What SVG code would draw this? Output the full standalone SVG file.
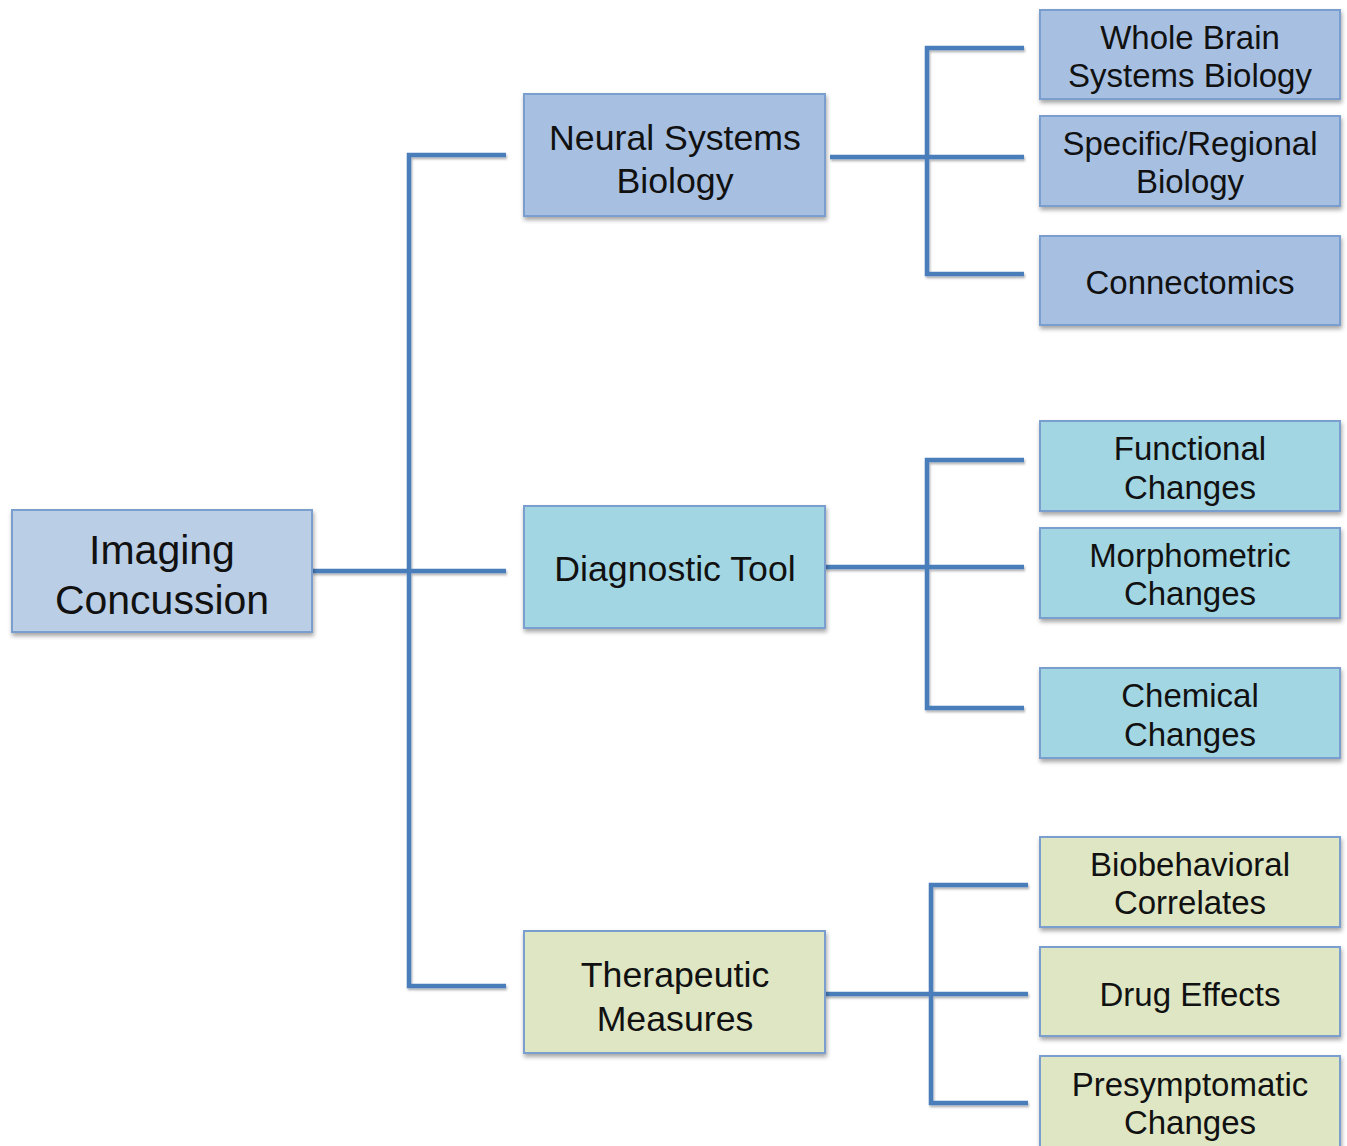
<svg xmlns="http://www.w3.org/2000/svg" width="1347" height="1146" viewBox="0 0 1347 1146">
<defs>
<filter id="sh" x="-5%" y="-10%" width="112%" height="130%">
<feDropShadow dx="1" dy="3" stdDeviation="2" flood-color="#000" flood-opacity="0.35"/>
</filter>
<filter id="lsh" x="-5%" y="-5%" width="110%" height="110%">
<feDropShadow dx="1" dy="2" stdDeviation="1.2" flood-color="#000" flood-opacity="0.3"/>
</filter>
<style>
.box{stroke:#7a9fcf;stroke-width:2;filter:url(#sh)}
.root{fill:#bacee6}
.nsb{fill:#a7c0e1}
.dx{fill:#a3d6e3}
.tm{fill:#dee6c4}
text{font-family:"Liberation Sans",Arial,Helvetica,sans-serif;fill:#111;text-anchor:middle}
.t0{font-size:41px}
.t1{font-size:35.7px}
.t2{font-size:33px}
.conn path{fill:none;stroke:#4a7ebb;stroke-width:4.5;stroke-linejoin:miter;stroke-linecap:butt}
</style>
</defs>
<rect width="1347" height="1146" fill="#ffffff"/>
<g class="conn" id="connectors" filter="url(#lsh)">
<path d="M312 571H506"/>
<path d="M506 155H409V986H506"/>
<path d="M830 157H1024"/>
<path d="M1024 48H927V274H1024"/>
<path d="M825 567H921"/>
<path d="M921 567H1024"/>
<path d="M1024 460H927V708H1024"/>
<path d="M825 994H1028"/>
<path d="M1028 885H931V1103H1028"/>
</g>
<g id="imaging-concussion"><rect class="box root" x="12" y="510" width="300" height="122"/><text class="t0" x="162" y="564">Imaging</text><text class="t0" x="162" y="614">Concussion</text></g>
<g id="neural-systems-biology"><rect class="box nsb" x="524" y="94" width="301" height="122"/><text class="t1" x="675" y="150">Neural Systems</text><text class="t1" x="675" y="193">Biology</text></g>
<g id="diagnostic-tool"><rect class="box dx" x="524" y="506" width="301" height="122"/><text class="t1" x="675" y="581">Diagnostic Tool</text></g>
<g id="therapeutic-measures"><rect class="box tm" x="524" y="931" width="301" height="122"/><text class="t1" x="675" y="987">Therapeutic</text><text class="t1" x="675" y="1031">Measures</text></g>
<g id="whole-brain"><rect class="box nsb" x="1040" y="10" width="300" height="89"/><text class="t2" x="1190" y="49">Whole Brain</text><text class="t2" x="1190" y="87">Systems Biology</text></g>
<g id="specific-regional"><rect class="box nsb" x="1040" y="116" width="300" height="90"/><text class="t2" x="1190" y="155">Specific/Regional</text><text class="t2" x="1190" y="193">Biology</text></g>
<g id="connectomics"><rect class="box nsb" x="1040" y="236" width="300" height="89"/><text class="t2" x="1190" y="294">Connectomics</text></g>
<g id="functional"><rect class="box dx" x="1040" y="421" width="300" height="90"/><text class="t2" x="1190" y="460">Functional</text><text class="t2" x="1190" y="499">Changes</text></g>
<g id="morphometric"><rect class="box dx" x="1040" y="528" width="300" height="90"/><text class="t2" x="1190" y="567">Morphometric</text><text class="t2" x="1190" y="605">Changes</text></g>
<g id="chemical"><rect class="box dx" x="1040" y="668" width="300" height="90"/><text class="t2" x="1190" y="707">Chemical</text><text class="t2" x="1190" y="746">Changes</text></g>
<g id="biobehavioral"><rect class="box tm" x="1040" y="837" width="300" height="90"/><text class="t2" x="1190" y="876">Biobehavioral</text><text class="t2" x="1190" y="914">Correlates</text></g>
<g id="drug-effects"><rect class="box tm" x="1040" y="947" width="300" height="89"/><text class="t2" x="1190" y="1006">Drug Effects</text></g>
<g id="presymptomatic"><rect class="box tm" x="1040" y="1056" width="300" height="94"/><text class="t2" x="1190" y="1096">Presymptomatic</text><text class="t2" x="1190" y="1134">Changes</text></g>
</svg>
